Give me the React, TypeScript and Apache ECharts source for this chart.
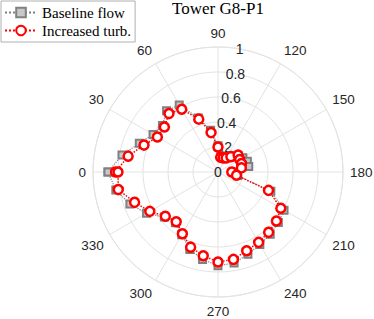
import React, { useEffect, useRef } from "react";
import * as echarts from "echarts";

const angles = [0, 10, 20, 30, 40, 50, 60, 70, 80, 90, 100, 110, 120, 130, 140, 150, 160, 170, 180, 190, 200, 210, 220, 230, 240, 250, 260, 270, 280, 290, 300, 310, 320, 330, 340, 350, 360];
const baseline = [0.88, 0.78, 0.67, 0.6, 0.58, 0.64, 0.62, 0.46, 0.34, 0.21, 0.13, 0.13, 0.14, 0.17, 0.21, 0.23, 0.25, 0.25, 0.12, 0.16, 0.45, 0.61, 0.63, 0.65, 0.67, 0.7, 0.74, 0.75, 0.71, 0.66, 0.58, 0.53, 0.56, 0.66, 0.75, 0.83, 0.88];
const increased = [0.82, 0.73, 0.63, 0.56, 0.56, 0.61, 0.58, 0.45, 0.32, 0.2, 0.12, 0.12, 0.13, 0.16, 0.21, 0.2, 0.2, 0.19, 0.11, 0.15, 0.43, 0.58, 0.61, 0.63, 0.65, 0.67, 0.71, 0.72, 0.68, 0.64, 0.57, 0.52, 0.55, 0.63, 0.71, 0.81, 0.8];
const seriesNames = ["Baseline flow", "Increased turb."];
const titleText = "Tower G8-P1";

export default function App() {
  const ref = useRef<HTMLDivElement>(null);
  useEffect(() => {
    if (!ref.current) return;
    const chart = echarts.init(ref.current, undefined, { renderer: "svg" });
    const sans = "Liberation Sans";
    const serif = "Liberation Serif";
    const grid = "#e3e3e3";
    chart.setOption({
      animation: false,
      backgroundColor: "#ffffff",
      title: {
        text: titleText,
        left: 218,
        top: 0,
        padding: 0,
        textAlign: "center",
        textStyle: { fontFamily: serif, fontSize: 17, fontWeight: 400, color: "#000" },
      },
      legend: {
        left: 1,
        top: 1,
        orient: "vertical",
        padding: [4, 4, 4, 3],
        itemGap: 3,
        itemWidth: 32,
        itemHeight: 12,
        borderColor: "#b0b0b0",
        borderWidth: 1,
        backgroundColor: "#fff",
        textStyle: { fontFamily: serif, fontSize: 15, color: "#000" },
        data: seriesNames,
      },
      polar: [
        { center: [218, 172], radius: 125 },
        { center: [218, 172], radius: 125 },
      ],
      angleAxis: [
        {
          polarIndex: 0,
          type: "value",
          min: 0,
          max: 360,
          interval: 30,
          startAngle: 180,
          clockwise: true,
          axisLine: { show: true, lineStyle: { color: grid, width: 1 } },
          axisTick: { show: false },
          splitLine: { show: true, lineStyle: { color: grid, width: 1 } },
          axisLabel: {
            show: true,
            margin: 7,
            fontFamily: sans,
            fontSize: 13.5,
            color: "#262626",
            formatter: (v: number) => (v === 360 ? "" : String(v)),
          },
        },
        {
          polarIndex: 1,
          type: "value",
          min: 0,
          max: 360,
          startAngle: 80,
          show: false,
        },
      ],
      radiusAxis: [
        {
          polarIndex: 0,
          type: "value",
          min: 0,
          max: 1,
          interval: 0.2,
          axisLine: { show: false },
          axisTick: { show: false },
          axisLabel: { show: false },
          splitLine: { show: true, lineStyle: { color: grid, width: 1 } },
        },
        {
          polarIndex: 1,
          type: "value",
          min: 0,
          max: 1,
          interval: 0.2,
          axisLine: { show: false },
          axisTick: { show: false },
          splitLine: { show: false },
          axisLabel: {
            show: true,
            margin: 0,
            align: "center",
            verticalAlign: "middle",
            fontFamily: sans,
            fontSize: 14,
            color: "#262626",
            formatter: (v: number) => String(Math.round(v * 10) / 10),
          },
        },
      ],
      series: [
        {
          name: seriesNames[0],
          type: "line",
          coordinateSystem: "polar",
          polarIndex: 0,
          data: angles.map((a, i) => [baseline[i], a]),
          symbol: "rect",
          symbolSize: 7,
          lineStyle: { color: "#808080", width: 1.2, type: "dotted" },
          itemStyle: { color: "#c8c8c8", borderColor: "#808080", borderWidth: 2 },
          z: 2,
        },
        {
          name: seriesNames[1],
          type: "line",
          coordinateSystem: "polar",
          polarIndex: 0,
          data: angles.map((a, i) => [increased[i], a]),
          symbol: "circle",
          symbolSize: 9,
          lineStyle: { color: "#ff0000", width: 1.5, type: "dotted" },
          itemStyle: { color: "#ffffff", borderColor: "#ff0000", borderWidth: 2.5 },
          z: 3,
        },
      ],
    });
    return () => chart.dispose();
  }, []);
  return <div ref={ref} style={{ position: "fixed", left: 0, top: 0, width: 374, height: 319 }} />;
}
